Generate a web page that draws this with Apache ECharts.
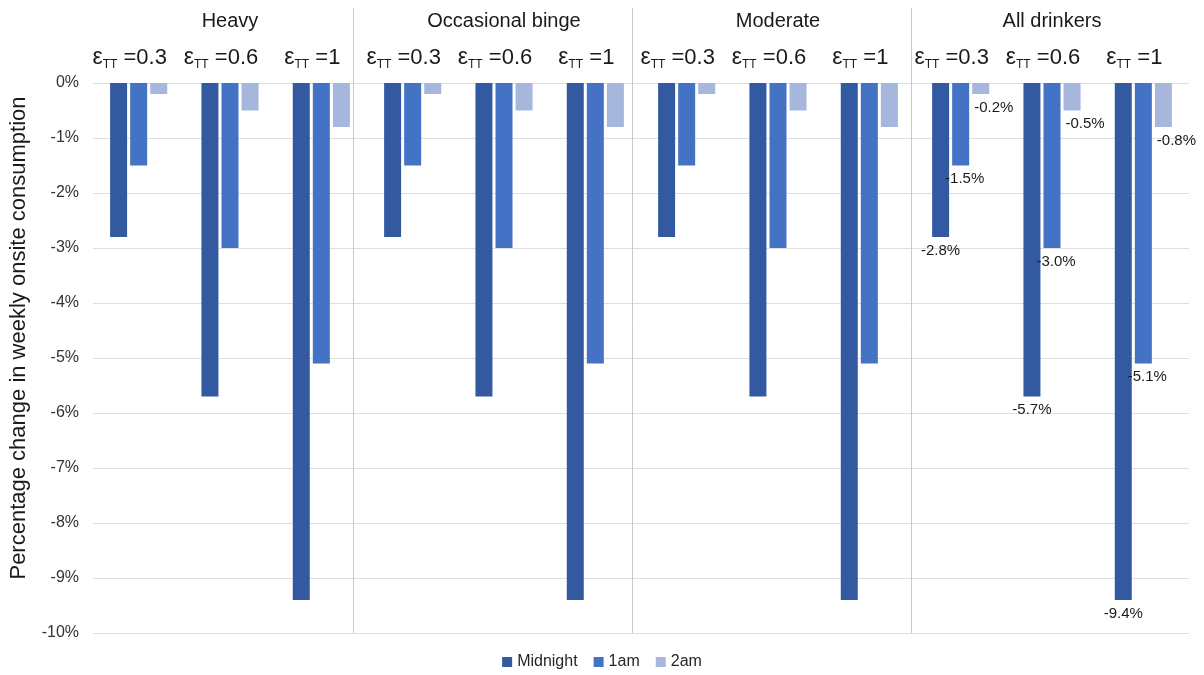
<!DOCTYPE html>
<html>
<head>
<meta charset="utf-8">
<title>Percentage change in weekly onsite consumption</title>
<script src="https://cdn.jsdelivr.net/npm/echarts@6/dist/echarts.min.js"></script>
<style>
  html, body { margin: 0; padding: 0; background: #ffffff; }
  #chart { width: 1204px; height: 675px; }
</style>
</head>
<body>
<div id="chart"></div>
<script>
// Drinker groups and the elasticity values within each group
const groups = ['Heavy', 'Occasional binge', 'Moderate', 'All drinkers'];
const elasticities = ['0.3', '0.6', '1'];

// Percentage change by closing time, per group, for each elasticity (0.3, 0.6, 1)
const midnight = [
  -2.8, -5.7, -9.4,
  -2.8, -5.7, -9.4,
  -2.8, -5.7, -9.4,
  -2.8, -5.7, -9.4
];
const oneAm = [
  -1.5, -3.0, -5.1,
  -1.5, -3.0, -5.1,
  -1.5, -3.0, -5.1,
  -1.5, -3.0, -5.1
];
const twoAm = [
  -0.2, -0.5, -0.8,
  -0.2, -0.5, -0.8,
  -0.2, -0.5, -0.8,
  -0.2, -0.5, -0.8
];

const seriesNames = ['Midnight', '1am', '2am'];
const seriesColors = ['#335aa1', '#4472c4', '#a7b6dc'];
const labelShift = [[0, 0], [4, 0], [13, 0]];

const yTicks = { min: -10, max: 0, interval: 1 };

// one category per (group, elasticity) pair
const categories = [];
groups.forEach(g => elasticities.forEach(e => categories.push(g + '|' + e)));

// Values are only annotated for the last group
const labelledGroup = groups.length - 1;

const font = 'Liberation Sans, Arial, sans-serif';
const ink = '#1a1a1a';
const separatorColor = '#c8c8c8';

function buildData(values, idx) {
  return values.map((v, i) => {
    const g = Math.floor(i / elasticities.length);
    return {
      value: v,
      label: {
        show: g === labelledGroup,
        position: 'bottom',
        distance: 6,
        offset: labelShift[idx],
        formatter: p => p.value.toFixed(1) + '%',
        fontSize: 15,
        color: ink,
        fontFamily: font
      }
    };
  });
}

const allValues = [midnight, oneAm, twoAm];

const chart = echarts.init(document.getElementById('chart'), null, { renderer: 'canvas' });

chart.setOption({
  animation: false,
  textStyle: { fontFamily: font },
  grid: [
    // plotting area for the bars
    { left: 92, right: 15, top: 83, bottom: 42 },
    // frame carrying the vertical lines between the group panels
    { left: 353, right: 293, top: 8, bottom: 42 }
  ],
  legend: {
    bottom: 0,
    left: 'center',
    icon: 'rect',
    itemWidth: 10,
    itemHeight: 10,
    itemGap: 16,
    textStyle: { fontSize: 16, color: '#262626', fontFamily: font },
    data: seriesNames
  },
  xAxis: [
    {
      type: 'category',
      gridIndex: 0,
      position: 'top',
      data: categories,
      axisLine: { show: false },
      axisTick: { show: false },
      splitLine: { show: false },
      axisLabel: {
        interval: 0,
        margin: 14,
        padding: [0, 18, 0, 0],
        formatter: v => '{e|ε}{s|TT}{v| =' + v.split('|')[1] + '}',
        rich: {
          e: { fontSize: 23, color: ink, fontFamily: font, verticalAlign: 'bottom' },
          s: { fontSize: 12, color: ink, fontFamily: font, verticalAlign: 'bottom', padding: [0, 0, -2, 0] },
          v: { fontSize: 22, color: ink, fontFamily: font, verticalAlign: 'bottom' }
        }
      }
    },
    {
      type: 'category',
      gridIndex: 0,
      position: 'top',
      data: groups,
      axisLine: { show: false },
      axisTick: { show: false },
      splitLine: { show: false },
      axisLabel: {
        interval: 0,
        margin: 52,
        fontSize: 20,
        color: ink,
        fontFamily: font
      }
    },
    {
      type: 'value',
      gridIndex: 1,
      min: 0,
      max: 2,
      interval: 1,
      axisLine: { show: false },
      axisTick: { show: false },
      axisLabel: { show: false },
      splitLine: { show: true, lineStyle: { color: separatorColor, width: 1 } }
    }
  ],
  yAxis: [
    {
      type: 'value',
      gridIndex: 0,
      min: yTicks.min,
      max: yTicks.max,
      interval: yTicks.interval,
      name: 'Percentage change in weekly onsite consumption',
      nameLocation: 'middle',
      nameGap: 63,
      nameRotate: 90,
      nameTextStyle: { fontSize: 22, color: ink, fontFamily: font, padding: [0, 0, 0, 40] },
      axisLine: { show: false },
      axisTick: { show: false },
      axisLabel: {
        formatter: v => v + '%',
        fontSize: 16,
        color: '#333333',
        margin: 14,
        fontFamily: font
      },
      splitLine: { lineStyle: { color: '#dedede', width: 1 } }
    },
    {
      type: 'value',
      gridIndex: 1,
      show: false,
      splitLine: { show: false }
    }
  ],
  series: allValues.map((vals, idx) => ({
    name: seriesNames[idx],
    type: 'bar',
    xAxisIndex: 0,
    yAxisIndex: 0,
    data: buildData(vals, idx),
    barWidth: 17,
    barGap: '18%',
    itemStyle: { color: seriesColors[idx] }
  }))
});
</script>
</body>
</html>
